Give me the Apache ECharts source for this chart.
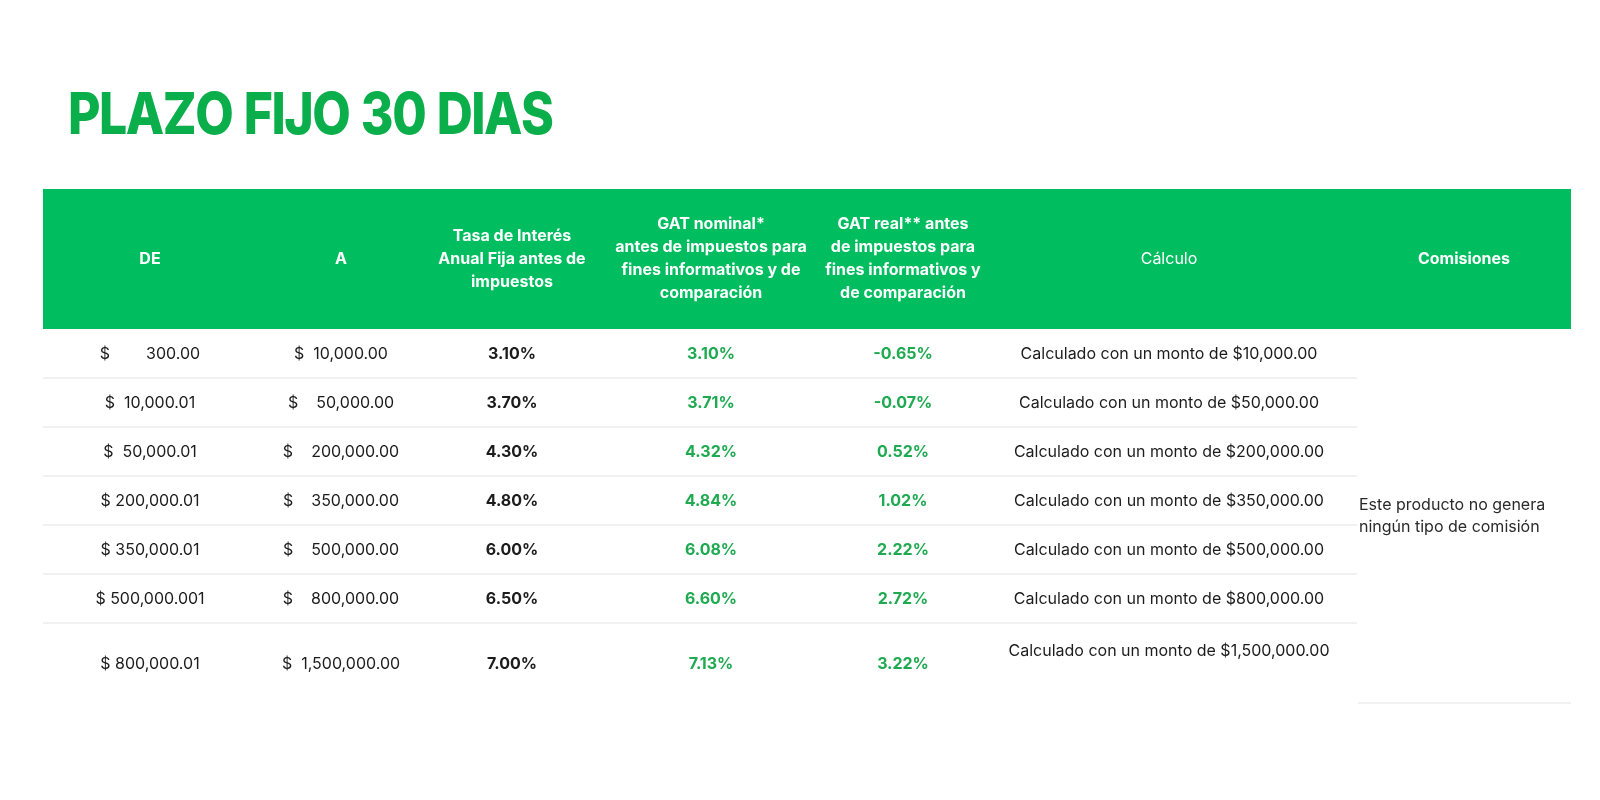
<!DOCTYPE html>
<html>
<head>
  <meta charset="utf-8" />
  <title>Plazo fijo 30 dias</title>
  <style>
    html, body { margin: 0; padding: 0; background: #ffffff; }
    #tablaBox { width: 1600px; height: 800px; }
  </style>
</head>
<body>
  <div id="tablaBox"></div>
  <script src="https://cdn.jsdelivr.net/npm/echarts@6/dist/echarts.min.js"></script>
  <script>
    // datos de la tabla
    var titulo = 'PLAZO FIJO 30 DIAS';
    var columnas = [
      'DE',
      'A',
      'Tasa de Interés\nAnual Fija antes de\nimpuestos',
      'GAT nominal*\nantes de impuestos para\nfines informativos y de\ncomparación',
      'GAT real** antes\nde impuestos para\nfines informativos y\nde comparación',
      'Cálculo',
      'Comisiones'
    ];
    var desde = ['$        300.00', '$  10,000.01', '$  50,000.01', '$ 200,000.01', '$ 350,000.01', '$ 500,000.001', '$ 800,000.01'];
    var hasta = ['$  10,000.00', '$    50,000.00', '$    200,000.00', '$    350,000.00', '$    500,000.00', '$    800,000.00', '$  1,500,000.00'];
    var tasa = [3.10, 3.70, 4.30, 4.80, 6.00, 6.50, 7.00];
    var gatNominal = [3.10, 3.71, 4.32, 4.84, 6.08, 6.60, 7.13];
    var gatReal = [-0.65, -0.07, 0.52, 1.02, 2.22, 2.72, 3.22];
    var montoCalculo = [10000, 50000, 200000, 350000, 500000, 800000, 1500000];
    var comision = 'Este producto no genera\nningún tipo de comisión';

    // disposicion (no son datos)
    var _font = 'Inter, "Noto Sans", sans-serif';
    var _verde = '#00be60';
    var _verdeTexto = '#1faa52';
    var _negro = '#1c1c1c';
    var tableW = 1528, headerH = 140, rowH = 49, lastRowH = 80, lineEnd = 1314;
    var colX = [107, 298, 469, 668, 860, 1126, 1421];
    var comisionX = 1316;
    var textDy = 1;

    var rowTop = [], y0 = headerH;
    for (var r = 0; r < desde.length; r++) {
      rowTop.push(y0);
      y0 += (r === desde.length - 1) ? lastRowH : rowH;
    }
    var tableH = y0;

    function fmtMonto(v) {
      return '$' + v.toLocaleString('en-US', { minimumFractionDigits: 2, maximumFractionDigits: 2 });
    }
    function fmtPct(v) {
      return v.toFixed(2) + '%';
    }

    // celdas: [x, y] en unidades del eje
    var cells = [];
    function addCell(x, y, text, font, color, align, lh) {
      cells.push({ x: x, y: y, text: text, font: font, color: color, align: align || 'center', lh: lh || 20 });
    }
    columnas.forEach(function (c, i) {
      var w = (i === 5) ? 'normal' : 'bold';
      addCell(colX[i], headerH / 2, c, w + ' 16px ' + _font, '#ffffff', 'center', 23);
    });
    for (var i = 0; i < desde.length; i++) {
      var h = (i === desde.length - 1) ? lastRowH : rowH;
      var cy = rowTop[i] + h / 2 + textDy;
      addCell(colX[0], cy, desde[i], 'normal 16px ' + _font, _negro);
      addCell(colX[1], cy, hasta[i], 'normal 16px ' + _font, _negro);
      addCell(colX[2], cy, fmtPct(tasa[i]), 'bold 16px ' + _font, _negro);
      addCell(colX[3], cy, fmtPct(gatNominal[i]), 'bold 16px ' + _font, _verdeTexto);
      addCell(colX[4], cy, fmtPct(gatReal[i]), 'bold 16px ' + _font, _verdeTexto);
      var cyCalc = (i === desde.length - 1) ? rowTop[i] + 28 : cy;
      addCell(colX[5], cyCalc, 'Calculado con un monto de ' + fmtMonto(montoCalculo[i]), 'normal 16px ' + _font, _negro);
    }
    addCell(comisionX, (headerH + tableH) / 2, comision, 'normal 16px ' + _font, '#2a2a2a', 'left', 22);

    // lineas separadoras
    var lineas = [];
    for (var k = 1; k < rowTop.length; k++) lineas.push([0, rowTop[k], lineEnd]);
    lineas.push([lineEnd + 1, tableH, tableW]);

    // titulo: letras juntas, espacio corto entre palabras
    var tituloFont = '800 58px ' + _font;
    var tituloW = 486, tituloScale = 0.86, wordGap = 10;
    var ctx = document.createElement('canvas').getContext('2d');
    ctx.font = tituloFont;
    var palabras = titulo.split(' ');
    var sumLetras = 0, nJuntas = 0;
    palabras.forEach(function (p) {
      for (var j = 0; j < p.length; j++) sumLetras += ctx.measureText(p[j]).width * tituloScale;
      nJuntas += p.length - 1;
    });
    var tracking = (sumLetras + wordGap * (palabras.length - 1) - tituloW) / nJuntas;
    var tituloGraphic = [], tx = 68;
    palabras.forEach(function (p) {
      for (var j = 0; j < p.length; j++) {
        tituloGraphic.push({
          type: 'text', x: tx, y: 117, scaleX: tituloScale, silent: true,
          style: { text: p[j], font: tituloFont, fill: '#0aaf4b', align: 'left', verticalAlign: 'middle' }
        });
        tx += ctx.measureText(p[j]).width * tituloScale - (j < p.length - 1 ? tracking : 0);
      }
      tx += wordGap;
    });

    var myChart = echarts.init(document.getElementById('tablaBox'));
    var option = {
      animation: false,
      backgroundColor: '#ffffff',
      graphic: tituloGraphic,
      grid: { left: 43, top: 189, width: tableW, height: tableH },
      xAxis: { type: 'value', min: 0, max: tableW, show: false },
      yAxis: { type: 'value', min: 0, max: tableH, inverse: true, show: false },
      series: [{
        // banda verde de encabezado
        type: 'custom',
        silent: true,
        data: [[0, 0, tableW, headerH]],
        renderItem: function (params, api) {
          var p1 = api.coord([api.value(0), api.value(1)]);
          var p2 = api.coord([api.value(2), api.value(3)]);
          return {
            type: 'rect',
            shape: { x: p1[0], y: p1[1], width: p2[0] - p1[0], height: p2[1] - p1[1] },
            style: { fill: _verde }
          };
        }
      }, {
        type: 'custom',
        silent: true,
        data: lineas,
        renderItem: function (params, api) {
          var p1 = api.coord([api.value(0), api.value(1)]);
          var p2 = api.coord([api.value(2), api.value(1)]);
          return {
            type: 'line',
            shape: { x1: p1[0], y1: p1[1], x2: p2[0], y2: p2[1] },
            style: { stroke: '#ededed', lineWidth: 1.5 }
          };
        }
      }, {
        type: 'custom',
        silent: true,
        data: cells.map(function (c) { return [c.x, c.y]; }),
        renderItem: function (params, api) {
          var c = cells[params.dataIndex];
          var pt = api.coord([api.value(0), api.value(1)]);
          return {
            type: 'text',
            x: pt[0],
            y: pt[1],
            style: {
              text: c.text,
              font: c.font,
              fill: c.color,
              align: c.align,
              verticalAlign: 'middle',
              textAlign: c.align,
              textVerticalAlign: 'middle',
              lineHeight: c.lh
            }
          };
        }
      }]
    };
    myChart.setOption(option);
  </script>
</body>
</html>
